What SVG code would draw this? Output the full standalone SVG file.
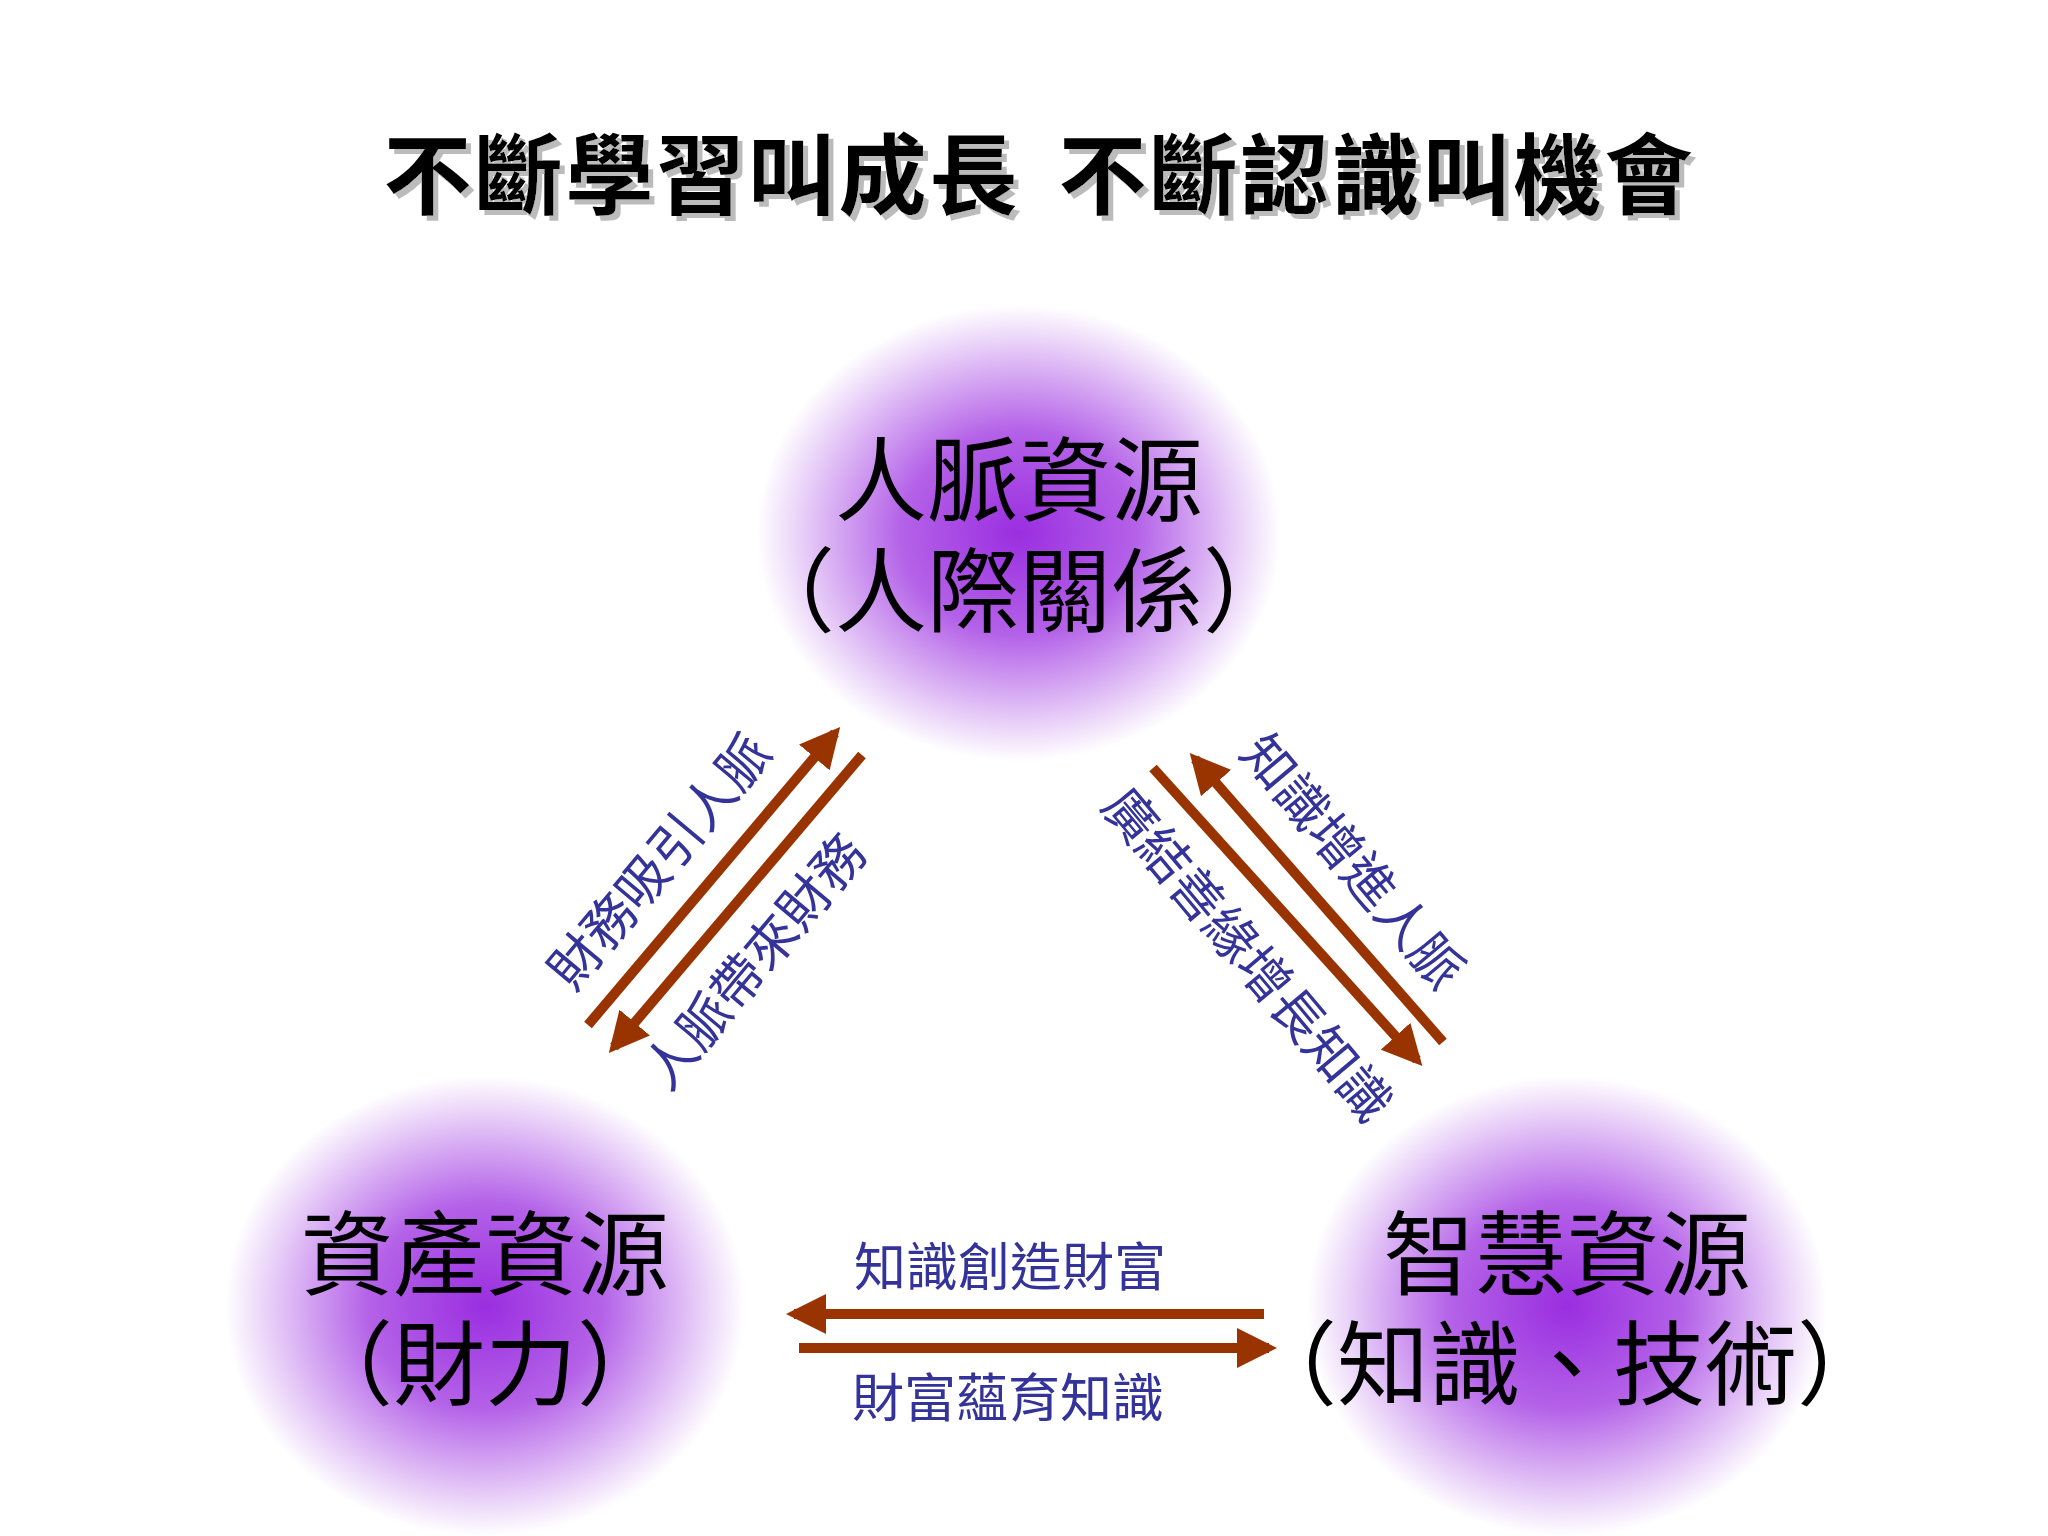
<svg xmlns="http://www.w3.org/2000/svg" width="2048" height="1536" viewBox="0 0 2048 1536">
<defs>
<radialGradient id="g" cx="50%" cy="50%" r="50%">
<stop offset="0" stop-color="#9a2ee0"/>
<stop offset="0.45" stop-color="#b462e8"/>
<stop offset="1" stop-color="#ffffff"/>
</radialGradient>
<filter id="sh" x="-5%" y="-20%" width="110%" height="140%">
<feDropShadow dx="5" dy="5" stdDeviation="0" flood-color="#bbb"/>
</filter>
<marker id="ah" viewBox="0 0 10 10" refX="8" refY="5" markerWidth="4" markerHeight="4" orient="auto" markerUnits="strokeWidth">
<path d="M0,0 L10,5 L0,10 Z" fill="#993300"/>
</marker>
<style>
.n{font-family:"Liberation Serif","Noto Sans CJK TC",serif;font-size:92px;fill:#000;text-anchor:middle}
.l{font-family:"Liberation Serif","Noto Sans CJK TC",serif;font-size:52px;fill:#333399;text-anchor:middle}
.a{stroke:#993300;stroke-width:10;fill:none;marker-end:url(#ah)}
.t{font-family:"Noto Sans CJK TC",sans-serif;font-weight:bold;font-size:88px;fill:#000;text-anchor:middle;filter:url(#sh)}
</style>
</defs>
<rect width="2048" height="1536" fill="#fff"/>
<g id="title">
<text class="t" x="702" y="207" letter-spacing="3">不斷學習叫成長</text>
<text class="t" x="1377" y="207" letter-spacing="3">不斷認識叫機會</text>
</g>
<g id="top">
<ellipse cx="1019" cy="533" rx="262" ry="228" fill="url(#g)"/>
<text class="n" x="1019" y="514">人脈資源</text>
<text class="n" x="1019" y="625">（人際關係）</text>
</g>
<g id="left">
<ellipse cx="485" cy="1306" rx="260" ry="230" fill="url(#g)"/>
<text class="n" x="485" y="1288">資產資源</text>
<text class="n" x="485" y="1398">（財力）</text>
</g>
<g id="right">
<ellipse cx="1567" cy="1306" rx="260" ry="230" fill="url(#g)"/>
<text class="n" x="1567" y="1288">智慧資源</text>
<text class="n" x="1567" y="1398">（知識、技術）</text>
</g>
<g id="connectors">
<line class="a" x1="588" y1="1025" x2="835" y2="733"/>
<line class="a" x1="862" y1="755" x2="614" y2="1047"/>
<line class="a" x1="1443" y1="1042" x2="1195" y2="759"/>
<line class="a" x1="1153" y1="768" x2="1417" y2="1060"/>
<line class="a" x1="1264" y1="1314" x2="794" y2="1314"/>
<line class="a" x1="799" y1="1348" x2="1269" y2="1348"/>
</g>
<g id="labels">
<text class="l" x="1010" y="1286">知識創造財富</text>
<text class="l" x="1008" y="1417">財富蘊育知識</text>
<text class="l" transform="translate(660,862) rotate(-50)" y="18">財務吸引人脈</text>
<text class="l" transform="translate(755,962) rotate(-50)" y="18">人脈帶來財務</text>
<text class="l" transform="translate(1352,862) rotate(50)" y="18">知識增進人脈</text>
<text class="l" transform="translate(1247,955) rotate(50)" y="18">廣結善緣增長知識</text>
</g>
</svg>
